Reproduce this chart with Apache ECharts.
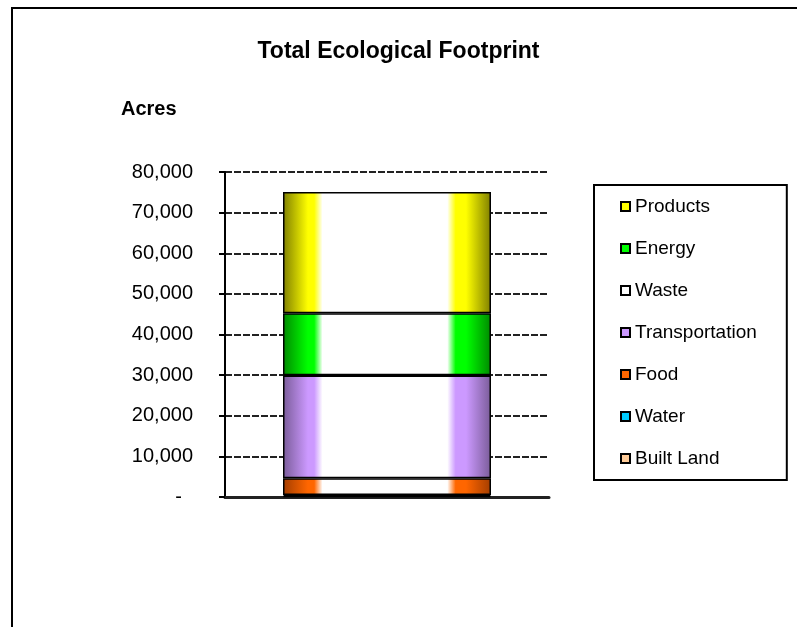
<!DOCTYPE html>
<html>
<head>
<meta charset="utf-8">
<script src="https://cdn.jsdelivr.net/npm/echarts@6/dist/echarts.min.js"></script>
<style>
  html, body { margin: 0; padding: 0; background: #fff; }
  #chart { width: 797px; height: 627px; }
</style>
</head>
<body>
<div id="chart"></div>
<script>
// data (acres), stacked bottom -> top
const categories = ['Total'];
const builtLand = [200];
const water = [300];
const food = [4100];
const transportation = [25300];
const waste = [100];
const energy = [15250];
const products = [29800];

const yMin = 0;
const yMax = 80000;
const yStep = 10000;

// legend lists the top of the stack first
const legendOrder = ['Products', 'Energy', 'Waste', 'Transportation', 'Food', 'Water', 'Built Land'];

// base colour (legend swatch) and darker edge for the cylinder-like shading
const palette = {
  'Built Land': ['#FFCC99', '#a37a52'],
  'Water': ['#00CCFF', '#007a99'],
  'Food': ['#FF6600', '#a33d00'],
  'Transportation': ['#CC99FF', '#7a5c99'],
  'Waste': ['#FFFFFF', '#FFFFFF'],
  'Energy': ['#00FF00', '#008a00'],
  'Products': ['#FFFF00', '#7f7f00']
};

const fmt = v => v === 0 ? '-  ' : v.toLocaleString('en-US');

function shade(name) {
  const [base, edge] = palette[name];
  return {
    type: 'linear', x: 0, y: 0, x2: 1, y2: 0,
    colorStops: [
      { offset: 0, color: edge },
      { offset: 0.12, color: base },
      { offset: 0.15, color: base },
      { offset: 0.19, color: '#ffffff' },
      { offset: 0.79, color: '#ffffff' },
      { offset: 0.83, color: base },
      { offset: 0.88, color: base },
      { offset: 1, color: edge }
    ]
  };
}

function bar(name, values) {
  return {
    name: name,
    type: 'bar',
    stack: 'total',
    data: values,
    barWidth: 208,
    itemStyle: { color: shade(name), borderColor: '#000', borderWidth: 1.5 },
    emphasis: { disabled: true }
  };
}

const chart = echarts.init(document.getElementById('chart'));

const option = {
  backgroundColor: '#fff',
  animation: false,
  title: [
    {
      text: 'Total Ecological Footprint',
      left: 'center',
      top: 35,
      textStyle: { fontFamily: 'Liberation Sans', fontWeight: 'bold', fontSize: 23, color: '#000' }
    },
    {
      text: 'Acres',
      left: 116,
      top: 94,
      textStyle: { fontFamily: 'Liberation Sans', fontWeight: 'bold', fontSize: 20, color: '#000' }
    }
  ],
  legend: {
    orient: 'vertical',
    left: 594,
    top: 185,
    padding: [12, 30, 12, 26],
    itemGap: 23,
    itemWidth: 9,
    itemHeight: 9,
    borderColor: '#000',
    borderWidth: 2,
    icon: 'rect',
    selectedMode: false,
    textStyle: { fontFamily: 'Liberation Sans', fontSize: 19, color: '#000' },
    data: legendOrder.map(n => ({
      name: n,
      itemStyle: { color: palette[n][0], borderColor: '#000', borderWidth: 2 }
    }))
  },
  grid: { left: 225, right: 248, top: 172, bottom: 130 },
  xAxis: {
    type: 'category',
    data: categories,
    axisLine: { lineStyle: { color: '#222', width: 3 } },
    axisTick: { show: false },
    axisLabel: { show: false }
  },
  yAxis: {
    type: 'value',
    min: yMin,
    max: yMax,
    interval: yStep,
    axisLine: { show: true, lineStyle: { color: '#000', width: 2 } },
    axisTick: { show: true, length: 6, lineStyle: { color: '#000', width: 2 } },
    axisLabel: {
      margin: 32,
      fontFamily: 'Liberation Sans',
      fontSize: 20,
      color: '#000',
      padding: [6, 0, 0, 0],
      formatter: fmt
    },
    splitLine: { show: true, lineStyle: { color: '#222', width: 2, type: [7, 2] } }
  },
  graphic: [
    {
      type: 'rect',
      shape: { x: 12, y: 8, width: 800, height: 640 },
      style: { fill: 'none', stroke: '#000', lineWidth: 2 },
      silent: true,
      z: -1
    }
  ],
  series: [
    bar('Built Land', builtLand),
    bar('Water', water),
    bar('Food', food),
    bar('Transportation', transportation),
    bar('Waste', waste),
    bar('Energy', energy),
    bar('Products', products)
  ]
};

chart.setOption(option);
window.addEventListener('resize', () => chart.resize());
</script>
</body>
</html>
